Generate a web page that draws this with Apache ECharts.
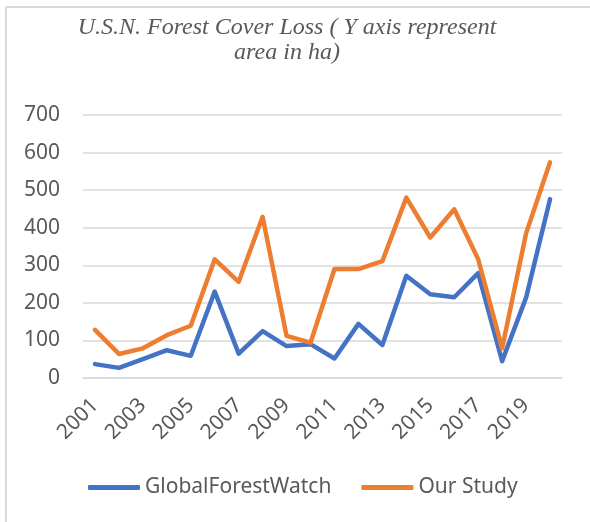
<!DOCTYPE html>
<html>
<head>
<meta charset="utf-8">
<script src="https://cdn.jsdelivr.net/npm/echarts@6/dist/echarts.min.js"></script>
<style>
  html, body { margin: 0; padding: 0; background: #fff; }
  #chart { width: 590px; height: 522px; }
</style>
</head>
<body>
<div id="chart"></div>
<script>
const years = ['2001', '2002', '2003', '2004', '2005', '2006', '2007', '2008', '2009', '2010',
  '2011', '2012', '2013', '2014', '2015', '2016', '2017', '2018', '2019', '2020'];
const globalForestWatch = [37, 27, 50, 74, 59, 230, 65, 125, 85, 90,
  52, 144, 88, 272, 223, 215, 279, 45, 214, 476];
const ourStudy = [128, 64, 79, 114, 139, 316, 256, 429, 112, 94,
  290, 290, 311, 480, 374, 449, 316, 79, 385, 574];

const textColor = '#595959';
const gridColor = '#d9d9d9';
const blue = '#4472C4';
const orange = '#ED7D31';

const chart = echarts.init(document.getElementById('chart'));

function lineSeries(name, data, color) {
  return {
    name: name,
    type: 'line',
    data: data,
    showSymbol: false,
    symbol: 'none',
    color: color,
    lineStyle: { width: 4.5, color: color, cap: 'round', join: 'round' },
    animation: false,
  };
}

chart.setOption({
  animation: false,
  title: {
    text: 'U.S.N. Forest Cover Loss ( Y axis represent\narea in ha)',
    left: 287,
    textAlign: 'center',
    top: 15,
    padding: 0,
    textStyle: {
      fontFamily: 'Liberation Serif',
      fontStyle: 'italic',
      fontWeight: 'normal',
      fontSize: 24,
      lineHeight: 25,
      color: textColor,
    },
  },
  graphic: [
    { type: 'line', shape: { x1: 6, y1: 7, x2: 590, y2: 7 }, style: { stroke: gridColor, lineWidth: 2 } },
    { type: 'line', shape: { x1: 6, y1: 7, x2: 6, y2: 522 }, style: { stroke: gridColor, lineWidth: 2 } },
  ],
  legend: {
    left: 88,
    top: 477,
    padding: 0,
    itemGap: 30,
    itemWidth: 52,
    itemHeight: 5,
    icon: 'roundRect',
    textStyle: { fontFamily: 'Noto Sans', fontSize: 21, color: textColor },
    data: ['GlobalForestWatch', 'Our Study'],
  },
  grid: { left: 83, right: 28, top: 115, bottom: 144, containLabel: false },
  xAxis: {
    type: 'category',
    data: years,
    boundaryGap: true,
    axisLine: { show: true, lineStyle: { color: gridColor, width: 1.5 } },
    axisTick: { show: false },
    axisLabel: {
      interval: 1,
      rotate: 45,
      margin: 24,
      fontFamily: 'Noto Sans',
      fontSize: 21,
      color: textColor,
    },
  },
  yAxis: {
    type: 'value',
    min: 0,
    max: 700,
    interval: 100,
    axisLine: { show: false },
    axisTick: { show: false },
    axisLabel: { margin: 23, fontFamily: 'Noto Sans', fontSize: 21, color: textColor },
    splitLine: { lineStyle: { color: gridColor, width: 1.5 } },
  },
  series: [
    lineSeries('GlobalForestWatch', globalForestWatch, blue),
    lineSeries('Our Study', ourStudy, orange),
  ],
});
</script>
</body>
</html>
